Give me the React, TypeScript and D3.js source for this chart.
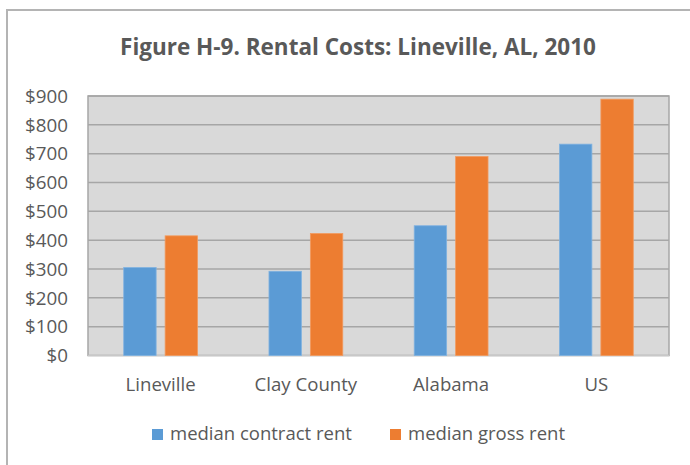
import React from "react";
import * as d3 from "d3";

const categories = ["Lineville", "Clay County", "Alabama", "US"];
const contractRent = [305, 292, 450, 733];
const grossRent = [415, 423, 690, 889];
const seriesNames = ["median contract rent", "median gross rent"];
const yTicks = [0, 100, 200, 300, 400, 500, 600, 700, 800, 900];
const colors = ["#5b9bd5", "#ed7d31"];

const W = 690, H = 465;
const plot = { left: 88, right: 669, top: 96, bottom: 355.5 };
const FONT = "'Open Sans', Lato, sans-serif";
const TXT = "#595959";

export default function App() {
  const x = d3.scaleBand<string>().domain(categories).range([plot.left, plot.right]).padding(0);
  const y = d3.scaleLinear().domain([0, 900]).range([plot.bottom, plot.top]);
  const barW = 32.4;
  const gap = 9;
  const series = [contractRent, grossRent];
  const legendX = [152, 390];

  return (
    <div style={{ position: "absolute", left: 0, top: 0 }}>
      <svg width={W} height={H} style={{ display: "block", background: "#fff" }}>
        <rect x={7} y={10} width={W} height={H} fill="#fff" stroke="#b4b4b4" strokeWidth={2} />
        <text x={358} y={55} textAnchor="middle" fontFamily={FONT} fontWeight="bold" fontSize={22.5} fill={TXT}>
          Figure H-9. Rental Costs: Lineville, AL, 2010
        </text>
        <rect x={plot.left} y={plot.top} width={plot.right - plot.left} height={plot.bottom - plot.top} fill="#d9d9d9" stroke="#a6a6a6" strokeWidth={1.5} />
        {yTicks.map((t) => (
          <g key={t}>
            {t > 0 && <line x1={plot.left} x2={plot.right} y1={y(t)} y2={y(t)} stroke="#a6a6a6" strokeWidth={1.5} />}
            <text x={68} y={y(t)} dy="0.36em" textAnchor="end" fontFamily={FONT} fontSize={18.8} fill={TXT}>
              {d3.format("$,")(t)}
            </text>
          </g>
        ))}
        <line x1={plot.left} x2={plot.right} y1={plot.bottom} y2={plot.bottom} stroke="#c8c8c8" strokeWidth={1.5} />
        {categories.map((c, i) => {
          const cx = (x(c) as number) + x.bandwidth() / 2;
          return (
            <g key={c}>
              {series.map((s, k) => {
                const bx = k === 0 ? cx - gap / 2 - barW : cx + gap / 2;
                return (
                  <rect key={k} x={bx} y={y(s[i])} width={barW} height={plot.bottom - y(s[i])} fill={colors[k]} stroke={k === 0 ? "#7fb2e0" : "#f29a5e"} strokeWidth={0.8} />
                );
              })}
              <text x={cx} y={391} textAnchor="middle" fontFamily={FONT} fontSize={18.6} fill={TXT}>
                {c}
              </text>
            </g>
          );
        })}
        {seriesNames.map((n, k) => {
          const lx = legendX[k];
          return (
            <g key={n}>
              <rect x={lx} y={429} width={11} height={11} fill={colors[k]} />
              <text x={lx + 18} y={440} fontFamily={FONT} fontSize={18.5} fill={TXT}>
                {n}
              </text>
            </g>
          );
        })}
      </svg>
    </div>
  );
}
